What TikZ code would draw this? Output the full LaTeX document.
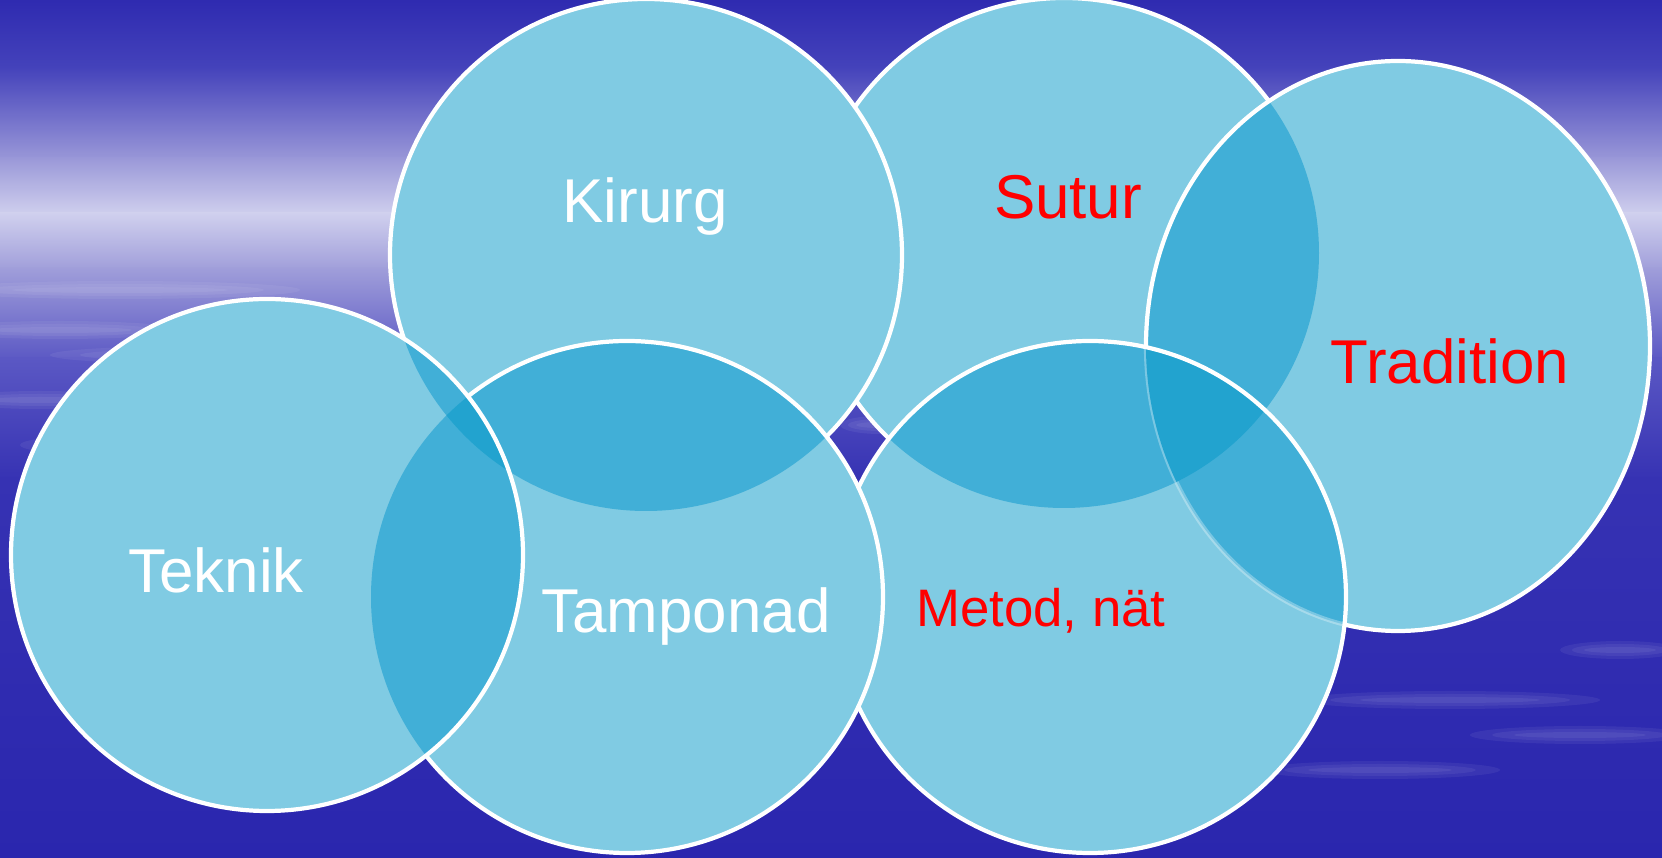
\documentclass[tikz,border=0pt]{standalone}
\usepackage{fontspec}
\setmainfont{Liberation Sans}

\definecolor{sky0}{HTML}{2E2AB0}
\definecolor{sky1}{HTML}{4543BB}
\definecolor{sky2}{HTML}{9A98D8}
\definecolor{sky3}{HTML}{D0D0EE}
\definecolor{sky4}{HTML}{A09EDA}
\definecolor{sky5}{HTML}{5B58C4}
\definecolor{sky6}{HTML}{3632B3}
\definecolor{sky7}{HTML}{2A26AE}
\definecolor{bubble}{HTML}{80CBE3}
\definecolor{lens}{HTML}{41AFD7}
\definecolor{core}{HTML}{22A3CF}

% the six rings, in pixel units
\newcommand\ringKirurg{(646,-255) circle [radius=256]}
\newcommand\ringSutur{(1064,-253) circle [radius=255]}
\newcommand\ringTradition{(1398,-346) ellipse [x radius=252, y radius=285]}
\newcommand\ringTeknik{(267,-555) circle [radius=256]}
\newcommand\ringTamponad{(627,-597) circle [radius=256]}
\newcommand\ringMetod{(1090,-597) circle [radius=256]}

\begin{document}
\begin{tikzpicture}[x=0.01cm, y=0.01cm,
  rim/.style={draw=white, line width=1.2pt},
  wisp/.style={fill=white, opacity=.06},
  word/.style={anchor=base, text=white, font=\fontsize{17.6}{20}\selectfont},
  hotword/.style={word, text=red}]
\useasboundingbox (0,0) rectangle (1662,-858);

% Background sky
\foreach \ya/\yb/\ca/\cb in {0/70/sky0/sky1, 70/160/sky1/sky2, 160/215/sky2/sky3,
    215/270/sky3/sky4, 270/360/sky4/sky5, 360/480/sky5/sky6, 480/858/sky6/sky7}
  \fill[top color=\ca, bottom color=\cb] (0,-\ya+2) rectangle (1662,-\yb);
% soft streaks
\foreach \x/\y/\r in {120/290/180, 60/330/120, 200/355/150, 40/400/90, 90/445/70,
    1450/700/150, 1580/735/110, 1380/770/120, 1620/650/60, 880/425/40}
{
  \fill[wisp] (\x,-\y) ellipse [x radius=\r, y radius=9];
  \fill[wisp] (\x,-\y) ellipse [x radius=.8*\r, y radius=6];
  \fill[wisp] (\x,-\y) ellipse [x radius=.6*\r, y radius=3];
}

% Right group
\fill[bubble] \ringSutur;
\draw[rim] \ringSutur;
\fill[bubble] \ringTradition;
\begin{scope}
  \clip \ringTradition;
  \fill[lens] \ringSutur;
\end{scope}
\draw[rim] \ringTradition;
\fill[bubble] \ringMetod;
\begin{scope}
  \clip \ringMetod;
  \fill[lens] \ringSutur;
  \fill[lens] \ringTradition;
  \draw[rim, opacity=.3] \ringTradition;
  \clip \ringSutur;
  \fill[core] \ringTradition;
\end{scope}
\draw[rim] \ringMetod;

% Left group
\fill[bubble] \ringKirurg;
\draw[rim] \ringKirurg;
\fill[bubble] \ringTamponad;
\begin{scope}
  \clip \ringTamponad;
  \fill[lens] \ringKirurg;
\end{scope}
\draw[rim] \ringTamponad;
\fill[bubble] \ringTeknik;
\begin{scope}
  \clip \ringTeknik;
  \fill[lens] \ringKirurg;
  \fill[lens] \ringTamponad;
  \clip \ringKirurg;
  \fill[core] \ringTamponad;
\end{scope}
\draw[rim] \ringTeknik;

% Labels
\node[word] (kirurg) at (645,-223) {Kirurg};
\node[hotword] (sutur) at (1068,-219) {Sutur};
\node[hotword] (tradition) at (1450,-384) {Tradition};
\node[word] (teknik) at (216,-593) {Teknik};
\node[word] (tamponad) at (686,-633) {Tamponad};
\node[hotword, font=\fontsize{15}{18}\selectfont] (metod) at (1041,-627) {Metod, nät};
\end{tikzpicture}
\end{document}
